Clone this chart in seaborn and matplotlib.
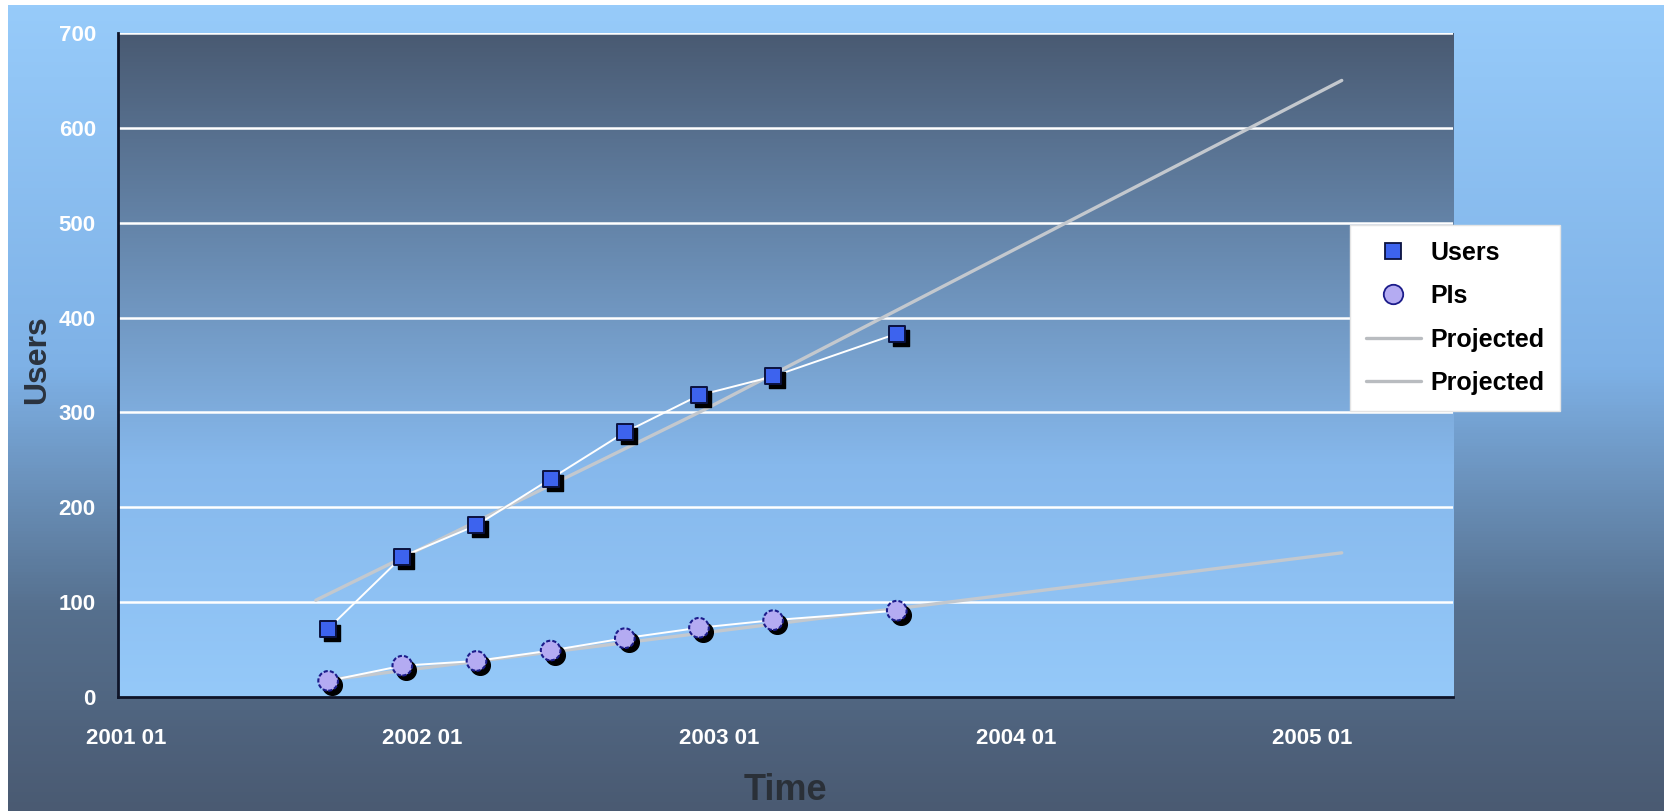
import numpy as np
import matplotlib
matplotlib.use("Agg")
import matplotlib.pyplot as plt
import matplotlib.transforms as mtransforms
from matplotlib.colors import LinearSegmentedColormap
from matplotlib.lines import Line2D
from matplotlib import font_manager
import seaborn as sns

# Observation dates in months since January 2001
obs_months = [8.5, 11.5, 14.5, 17.5, 20.5, 23.5, 26.5, 31.5]
users = [72, 148, 181, 230, 279, 318, 338, 383]
pis = [17, 33, 38, 49, 62, 73, 81, 91]

# Projected growth
proj_user_months = [8.0, 23.5, 49.5]
proj_users = [102, 300, 650]
proj_pi_months = [8.5, 49.5]
proj_pis = [18, 152]

tick_months = [0, 12, 24, 36, 48]
tick_labels = ["2001 01", "2002 01", "2003 01", "2004 01", "2005 01"]
y_ticks = [0, 100, 200, 300, 400, 500, 600, 700]

sns.set_theme(style="white")
installed = {f.name for f in font_manager.fontManager.ttflist}
family = [f for f in ("Liberation Sans Narrow", "Liberation Sans") if f in installed]
plt.rcParams["font.family"] = family + ["DejaVu Sans"]

W, H = 1669, 811
fig = plt.figure(figsize=(W / 100, H / 100), dpi=100)
fig.patch.set_facecolor("white")

# Page background: light blue at the top fading to slate at the bottom
page_cmap = LinearSegmentedColormap.from_list(
    "page", [(0.0, "#4a5a72"), (0.25, "#56708e"), (0.55, "#7eb1e6"), (1.0, "#97cbfa")])
bg = fig.add_axes([8 / W, 0, (1663 - 8) / W, (H - 5) / H], zorder=-5)
bg.imshow(np.linspace(0, 1, 256).reshape(-1, 1), cmap=page_cmap, aspect="auto",
          origin="lower", extent=[0, 1, 0, 1])
bg.set_axis_off()

# Plot area
ax = fig.add_axes([118 / W, (H - 697) / H, 1335 / W, 664 / H])
plot_cmap = LinearSegmentedColormap.from_list(
    "plot", [(0.0, "#95c9f9"), (0.35, "#86b8ec"), (0.65, "#6a8db4"), (1.0, "#495a72")])
ax.imshow(np.linspace(0, 1, 256).reshape(-1, 1), cmap=plot_cmap, aspect="auto",
          origin="lower", extent=[0, 54, 0, 700], zorder=-2)

for yv in y_ticks[1:]:
    ax.axhline(yv, color="white", lw=1.8, zorder=0.5)

# Projection lines
sns.lineplot(x=proj_user_months, y=proj_users, ax=ax, color="#c3c8ce", lw=2.4,
             estimator=None, zorder=2)
sns.lineplot(x=proj_pi_months, y=proj_pis, ax=ax, color="#c3c8ce", lw=2.4,
             estimator=None, zorder=2)

# Observed connecting lines
sns.lineplot(x=obs_months, y=users, ax=ax, color="white", lw=1.4, estimator=None, zorder=3)
sns.lineplot(x=obs_months, y=pis, ax=ax, color="white", lw=1.4, estimator=None, zorder=3)

# Drop shadows under markers
shadow = mtransforms.offset_copy(ax.transData, fig=fig, x=4, y=-4, units="dots")
sns.scatterplot(x=obs_months, y=users, ax=ax, marker="s", s=135, color="black",
                edgecolor="black", linewidth=1, transform=shadow, zorder=4)
sns.scatterplot(x=obs_months, y=pis, ax=ax, marker="o", s=200, color="black",
                edgecolor="black", linewidth=1, transform=shadow, zorder=4)

sns.scatterplot(x=obs_months, y=users, ax=ax, marker="s", s=135, color="#3d63ee",
                edgecolor="#0b1240", linewidth=1.4, zorder=5)
sns.scatterplot(x=obs_months, y=pis, ax=ax, marker="o", s=200, color="#b4abf2",
                edgecolor="#1c1c8a", linewidth=1.5, linestyle=(0, (2, 1)), zorder=5)

ax.set_xlim(0, 54)
ax.set_ylim(0, 700)
ax.set_xticks(tick_months)
ax.set_xticklabels(tick_labels)
ax.set_yticks(y_ticks)
ax.set_xlabel("")
ax.set_ylabel("")
ax.grid(False)

for side in ("top", "right"):
    ax.spines[side].set_visible(False)
for side in ("left", "bottom"):
    ax.spines[side].set_color("#0e1428")
    ax.spines[side].set_linewidth(2)

ax.tick_params(axis="y", direction="out", length=7, width=1.6, color="#0e1428",
               labelcolor="white", labelsize=16, pad=9)
ax.tick_params(axis="x", direction="inout", length=13, width=1.6, color="#0e1428",
               labelcolor="white", labelsize=16, pad=16)
shift = mtransforms.ScaledTranslation(8 / 100, 0, fig.dpi_scale_trans)
for lab in ax.get_xticklabels():
    lab.set_fontweight("bold")
    lab.set_transform(lab.get_transform() + shift)
for lab in ax.get_yticklabels():
    lab.set_fontweight("bold")

fig.text(37 / W, 1 - 360 / H, "Users", rotation=90, fontsize=23, fontweight="bold",
         color="#2b333e", ha="center", va="center")
fig.text(785 / W, 1 - 790 / H, "Time", fontsize=26, fontweight="bold",
         color="#2a3038", ha="center", va="center")

handles = [
    Line2D([], [], marker="s", ls="none", markersize=11, markerfacecolor="#3d63ee",
           markeredgecolor="#0b1240", markeredgewidth=1.3),
    Line2D([], [], marker="o", ls="none", markersize=14, markerfacecolor="#b4abf2",
           markeredgecolor="#1c1c8a", markeredgewidth=1.3),
    Line2D([], [], color="#b9bcc0", lw=2.4),
    Line2D([], [], color="#b9bcc0", lw=2.4),
]
leg = fig.legend(handles, ["Users", "PIs", "Projected", "Projected"],
                 loc="upper left", bbox_to_anchor=(1350 / W, 1 - 225 / H),
                 borderaxespad=0, frameon=True, fancybox=False, framealpha=1,
                 edgecolor="#e4e4e4", facecolor="white",
                 prop={"weight": "bold", "size": 18},
                 handlelength=2.2, labelspacing=0.78, borderpad=0.62, handletextpad=0.4)
for t in leg.get_texts():
    t.set_color("black")

fig.savefig("out.png", dpi=100, facecolor=fig.get_facecolor())
